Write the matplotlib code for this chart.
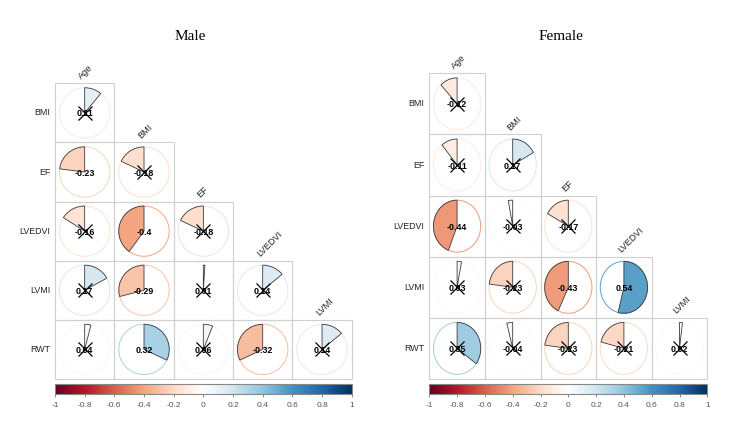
import numpy as np
import matplotlib
matplotlib.use('Agg')
import matplotlib.pyplot as plt
from matplotlib.patches import Rectangle, Circle, Wedge
from matplotlib.colors import LinearSegmentedColormap, Normalize
from matplotlib.cm import ScalarMappable

# variables: rows are BMI..RWT, columns Age..LVMI (lower triangle)
row_labels = ['BMI', 'EF', 'LVEDVI', 'LVMI', 'RWT']
col_labels = ['Age', 'BMI', 'EF', 'LVEDVI', 'LVMI']

male_r = [
    [0.11],
    [-0.23, -0.18],
    [-0.16, -0.40, -0.18],
    [0.17, -0.29, 0.01, 0.14],
    [0.04, 0.32, 0.06, -0.32, 0.14],
]
male_sig = [
    [0],
    [1, 0],
    [0, 1, 0],
    [0, 1, 0, 0],
    [0, 1, 0, 1, 0],
]

female_r = [
    [-0.12],
    [-0.11, 0.17],
    [-0.44, -0.03, -0.17],
    [0.03, -0.23, -0.43, 0.54],
    [0.35, -0.04, -0.23, -0.21, 0.02],
]
female_sig = [
    [0],
    [0, 0],
    [1, 0, 0],
    [0, 0, 1, 1],
    [0, 0, 0, 0, 0],
]

cb_ticks = [-1, -0.8, -0.6, -0.4, -0.2, 0, 0.2, 0.4, 0.6, 0.8, 1]
cb_ticklabels = ['-1', '-0.8', '-0.6', '-0.4', '-0.2', '0', '0.2', '0.4', '0.6', '0.8', '1']

# corrplot COL2('RdBu')
cmap = LinearSegmentedColormap.from_list('rdbu', [
    '#67001F', '#B2182B', '#D6604D', '#F4A582', '#FDDBC7', '#FFFFFF',
    '#D1E5F0', '#92C5DE', '#4393C3', '#2166AC', '#053061'], N=200)
norm = Normalize(-1, 1)

W, H = 750, 425
fig = plt.figure(figsize=(W / 100, H / 100), dpi=100)


def fmt(v):
    s = '%.2f' % v
    return s.rstrip('0').rstrip('.')


def panel(px, cbx, r, sig, title, title_x):
    # px: left, top, right, bottom in pixels
    l, t, rr, b = px
    ax = fig.add_axes([l / W, 1 - b / H, (rr - l) / W, (b - t) / H])
    ax.set_xlim(0, 5)
    ax.set_ylim(0, 5)
    ax.axis('off')
    n = len(row_labels)
    for i in range(n):
        for j in range(i + 1):
            ax.add_patch(Rectangle((j, n - 1 - i), 1, 1, fill=False,
                                   ec='#D0D0D0', lw=0.8, clip_on=False))
            v = r[i][j]
            c = cmap(norm(v))
            cx, cy = j + 0.5, n - 0.5 - i
            ax.add_patch(Circle((cx, cy), 0.425, fill=False, ec=c, lw=0.7))
            if v >= 0:
                th1, th2 = 90 - 360 * v, 90
            else:
                th1, th2 = 90, 90 - 360 * v
            ax.add_patch(Wedge((cx, cy), 0.425, th1, th2, fc=c,
                               ec='#3a3a3a', lw=0.6))
            ax.text(cx, cy, fmt(v), ha='center', va='center_baseline',
                    fontsize=6.4, fontweight='bold', family='Liberation Sans',
                    color='black')
            if not sig[i][j]:
                ax.plot(cx, cy, marker='x', ms=9.5, mew=0.9, color='black')
    for i, lab in enumerate(row_labels):
        ax.annotate(lab, (0, n - 0.5 - i), xytext=(-3.5, 0),
                    textcoords='offset points', ha='right', va='center',
                    fontsize=6.4, family='Liberation Sans', color='#222222',
                    annotation_clip=False)
    for j, lab in enumerate(col_labels):
        ax.annotate(lab, (j + 0.5, n - j), xytext=(-1, 1.5),
                    textcoords='offset points', ha='left', va='bottom',
                    rotation=45, rotation_mode='anchor', fontsize=6.6,
                    family='Liberation Sans', color='#222222',
                    annotation_clip=False)

    cl, ct, cr, cb = cbx
    cax = fig.add_axes([cl / W, 1 - cb / H, (cr - cl) / W, (cb - ct) / H])
    cbar = fig.colorbar(ScalarMappable(norm=norm, cmap=cmap), cax=cax,
                        orientation='horizontal')
    cbar.set_ticks(cb_ticks)
    cbar.set_ticklabels(cb_ticklabels)
    cbar.outline.set_edgecolor('#888888')
    cbar.outline.set_linewidth(0.8)
    cax.tick_params(labelsize=6, colors='#555555', length=2, width=0.5,
                    pad=4)
    for tl in cax.get_xticklabels():
        tl.set_family('Liberation Sans')

    fig.text(title_x / W, 1 - 36 / H, title, ha='center', va='center',
             family='Liberation Serif', fontsize=11)


panel((55, 83.3, 351.7, 379), (55, 384, 351.7, 394), male_r, male_sig,
      'Male', 190)
panel((429.3, 73.3, 707.3, 379), (429.3, 384, 707.3, 394), female_r,
      female_sig, 'Female', 561)

fig.savefig('out.png', dpi=100)
